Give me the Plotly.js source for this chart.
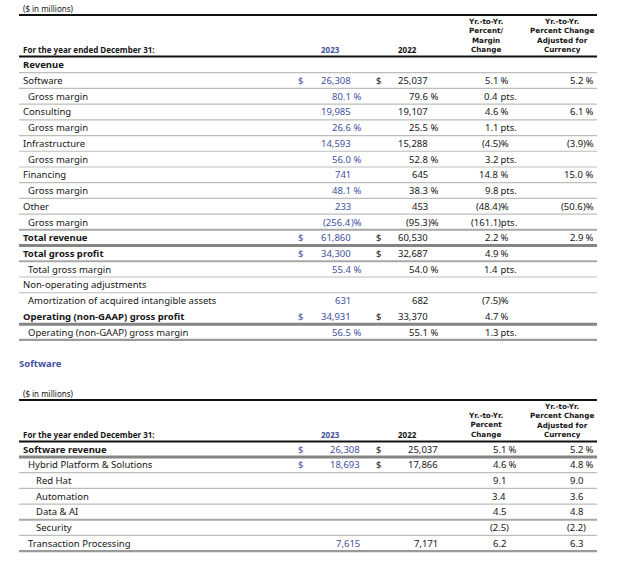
<!DOCTYPE html>
<html><head><meta charset="utf-8">
<script src="https://cdn.plot.ly/plotly-3.0.1.min.js"></script>
<style>html,body{margin:0;padding:0;background:#fff}#chart{width:640px;height:568px}</style>
</head><body><div id="chart"></div>
<script>
// ---------- DATA ----------
const unitsNote = "($ in millions)";
const yearLabel = "For the year ended December 31:";
const years = ["2023", "2022"];
const topHeadYoy = ["Yr.-to-Yr.", "Percent/", "Margin", "Change"];
const headAdj = ["Yr.-to-Yr.", "Percent Change", "Adjusted for", "Currency"];
const swHeadYoy = ["Yr.-to-Yr.", "Percent", "Change"];
const swTitle = "Software";

const topLabels = ["Revenue", "Software", "Gross margin", "Consulting", "Gross margin",
  "Infrastructure", "Gross margin", "Financing", "Gross margin", "Other", "Gross margin",
  "Total revenue", "Total gross profit", "Total gross margin", "Non-operating adjustments",
  "Amortization of acquired intangible assets", "Operating (non-GAAP) gross profit",
  "Operating (non-GAAP) gross margin"];
const top2023 = ["", "26,308", "80.1 %", "19,985", "26.6 %", "14,593", "56.0 %", "741", "48.1 %",
  "233", "(256.4)%", "61,860", "34,300", "55.4 %", "", "631", "34,931", "56.5 %"];
const top2022 = ["", "25,037", "79.6 %", "19,107", "25.5 %", "15,288", "52.8 %", "645", "38.3 %",
  "453", "(95.3)%", "60,530", "32,687", "54.0 %", "", "682", "33,370", "55.1 %"];
const topYoy = ["", "5.1 %", "0.4 pts.", "4.6 %", "1.1 pts.", "(4.5)%", "3.2 pts.", "14.8 %",
  "9.8 pts.", "(48.4)%", "(161.1)pts.", "2.2 %", "4.9 %", "1.4 pts.", "", "(7.5)%", "4.7 %", "1.3 pts."];
const topAdj = ["", "5.2 %", "", "6.1 %", "", "(3.9)%", "", "15.0 %", "", "(50.6)%", "",
  "2.9 %", "", "", "", "", "", ""];
const topDollarRows = [1, 11, 12, 16];

const swLabels = ["Software revenue", "Hybrid Platform & Solutions", "Red Hat", "Automation",
  "Data & AI", "Security", "Transaction Processing"];
const sw2023 = ["26,308", "18,693", "", "", "", "", "7,615"];
const sw2022 = ["25,037", "17,866", "", "", "", "", "7,171"];
const swYoy = ["5.1 %", "4.6 %", "9.1", "3.4", "4.5", "(2.5)", "6.2"];
const swAdj = ["5.2 %", "4.8 %", "9.0", "3.6", "4.8", "(2.2)", "6.3"];
const swDollarRows = [0, 1];

// ---------- STYLE / LAYOUT ----------
const topIndent = [0,0,1,0,1,0,1,0,1,0,1,0,0,1,0,1,0,1];
const topBold = [1,0,0,0,0,0,0,0,0,0,0,1,1,0,0,0,1,0];
const topRule = ['t','t','t','t','t','t','t','t','t','t','m','h','m','t','t','','h','g'];
const swIndent = [0,1,2,2,2,2,1];
const swBold = [1,0,0,0,0,0,0];
const swRule = ['h','t','t','t','m','t','g'];

const FONT = "'Noto Sans', sans-serif";
const HFONT = "'DejaVu Sans', sans-serif";
const DARK = "#161616", BLUE = "#4350a0";
const FS = 9.5, HFS = 8, MFS = 7.2;
const ann = [], shp = [];

function txt(x, y, t, o) {
  o = o || {};
  ann.push({xref: 'x', yref: 'y', x: x, y: y, text: t, showarrow: false,
    xanchor: o.anchor || 'left', yanchor: o.yanchor || 'middle', align: 'center',
    borderpad: 0, borderwidth: 0,
    font: {family: o.family || FONT, size: o.size || FS, color: o.color || DARK,
      weight: o.bold ? 700 : 400}});
}
function hline(y, w, c) {
  shp.push({type: 'line', xref: 'x', yref: 'y', x0: 19, x1: 597, y0: y, y1: y,
    line: {color: c, width: w}});
}
function num(xr, y, s, color) {
  if (!s) return;
  const m = s.match(/^(\(?[\d.,]+)(.*)$/);
  txt(xr, y, m[1], {anchor: 'right', color: color});
  if (m[2]) txt(xr, y, m[2].replace(/ /g, '\u00a0'), {anchor: 'left', color: color});
}
const ruleStyles = {t: [1.2, '#bdbdbd'], m: [2, '#a8a8a8'], h: [3, '#858585'], g: [2.2, '#9a9a9a']};

function section(o) {
  txt(23, o.noteY, unitsNote, {size: HFS});
  hline(o.noteY + 7, 2, '#111');
  txt(23, o.headY, yearLabel, {size: HFS, bold: true});
  txt(330, o.headY, years[0], {size: HFS, bold: true, color: BLUE, anchor: 'center'});
  txt(407, o.headY, years[1], {size: HFS, bold: true, anchor: 'center'});
  const bottom = o.headY + 0.65 * MFS;
  txt(485, bottom, o.headYoy.join('<br>'), {size: MFS, bold: true, anchor: 'center',
    yanchor: 'bottom', family: HFONT});
  txt(562, bottom, headAdj.join('<br>'), {size: MFS, bold: true, anchor: 'center',
    yanchor: 'bottom', family: HFONT});
  hline(o.headY + 7, 2, '#111');
  o.labels.forEach((lab, i) => {
    const y = o.y0 + i * o.pitch;
    const ind = [23, 28, 36][o.indent[i]];
    txt(ind, y, lab, {bold: o.bold[i] === 1});
    if (o.dollars.indexOf(i) >= 0) {
      txt(300, y, '$', {anchor: 'center', color: BLUE});
      txt(378, y, '$', {anchor: 'center'});
    }
    num(o.c.n23, y, o.v23[i], BLUE);
    num(o.c.n22, y, o.v22[i], DARK);
    num(o.c.yoy, y, o.yoy[i], DARK);
    num(o.c.adj, y, o.adj[i], DARK);
    const r = ruleStyles[o.rule[i]];
    if (r) hline(y + o.pitch / 2, r[0], r[1]);
  });
}

section({noteY: 8, headY: 49.5, headYoy: topHeadYoy, y0: 64.8, pitch: 15.72,
  labels: topLabels, indent: topIndent, bold: topBold, dollars: topDollarRows,
  v23: top2023, v22: top2022, yoy: topYoy, adj: topAdj, rule: topRule,
  c: {n23: 351, n22: 428, yoy: 498, adj: 583}});

txt(19, 363, swTitle, {bold: true, color: BLUE, size: 9.5});

section({noteY: 393, headY: 434.5, headYoy: swHeadYoy, y0: 449.2, pitch: 15.68,
  labels: swLabels, indent: swIndent, bold: swBold, dollars: swDollarRows,
  v23: sw2023, v22: sw2022, yoy: swYoy, adj: swAdj, rule: swRule,
  c: {n23: 360, n22: 438, yoy: 506, adj: 583}});

const layout = {
  width: 640, height: 568, margin: {l: 0, r: 0, t: 0, b: 0},
  paper_bgcolor: '#fff', plot_bgcolor: '#fff', showlegend: false,
  xaxis: {range: [0, 640], visible: false, fixedrange: true},
  yaxis: {range: [568, 0], visible: false, fixedrange: true},
  annotations: ann, shapes: shp
};
Plotly.newPlot('chart', [{x: [], y: [], type: 'scatter', mode: 'markers', hoverinfo: 'skip'}],
  layout, {staticPlot: true, displayModeBar: false});
</script></body></html>
